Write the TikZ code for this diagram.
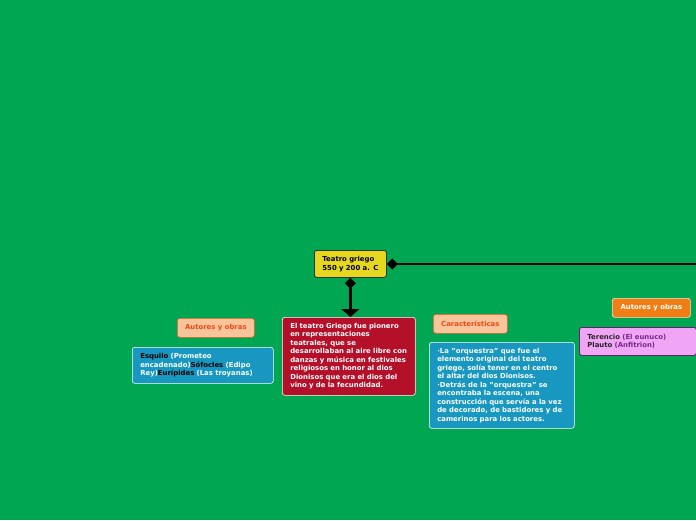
\documentclass[tikz,border=0pt]{standalone}
\usepackage{fontspec}
\setmainfont{DejaVu Sans}
\usetikzlibrary{arrows.meta}
\definecolor{bggreen}{RGB}{0,166,81}
\definecolor{ygold}{RGB}{230,216,30}
\definecolor{tred}{RGB}{181,16,42}
\definecolor{lorange}{RGB}{248,196,154}
\definecolor{lorangeborder}{RGB}{226,92,32}
\definecolor{lorangetext}{RGB}{240,72,22}
\definecolor{tblue}{RGB}{24,152,192}
\definecolor{dorange}{RGB}{240,126,20}
\definecolor{tpink}{RGB}{240,166,245}
\definecolor{pinkborder}{RGB}{90,40,100}
\definecolor{pinktext}{RGB}{120,40,140}
\tikzset{
  x=1pt,y=-1pt,
  box/.style={rounded corners=2.5pt, anchor=north west, align=left, inner xsep=8pt, inner ysep=2pt,
    font=\fontsize{6.9}{8.5}\selectfont\bfseries},
  labelbox/.style={rounded corners=2.5pt, anchor=north west, align=center, inner sep=0pt,
    font=\fontsize{6.9}{8.5}\selectfont\bfseries},
  conn/.style={line width=2.6pt, black},
}
\begin{document}
\begin{tikzpicture}
\fill[bggreen] (0,0) rectangle (696,520);
\useasboundingbox (0,0) rectangle (696,520);

\node[box, fill=ygold, draw=black!80, line width=0.8pt, text width=56pt, minimum height=27pt, text=black] (central) at (314,250)
  {Teatro griego\\550 y 200 a. C};

\node[box, fill=tred, draw=white, line width=0.6pt, text width=117pt, minimum height=78pt, text=white] (red) at (282,317)
  {El teatro Griego fue pionero\\en representaciones\\teatrales, que se\\desarrollaban al aire libre con\\danzas y música en festivales\\religiosos en honor al dios\\Dionisos que era el dios del\\vino y de la fecundidad.};

\node[labelbox, fill=lorange, draw=lorangeborder, line width=0.7pt, minimum width=77pt, minimum height=19pt, text=lorangetext] (aut1) at (177,318)
  {Autores y obras};

\node[box, fill=tblue, draw=white, line width=0.6pt, text width=125pt, minimum height=36pt, text=white] (blue1) at (132,347)
  {\textcolor{black}{Esquilo} (Prometeo\\encadenado)\textcolor{black}{Sófocles} (Edipo\\Rey)\textcolor{black}{Eurípides} (Las troyanas)};

\node[labelbox, fill=lorange, draw=lorangeborder, line width=0.7pt, minimum width=74pt, minimum height=19pt, text=lorangetext] (carac) at (433,314)
  {Características};

\node[box, fill=tblue, draw=white, line width=0.6pt, text width=129pt, minimum height=86pt, text=white] (blue2) at (429,342)
  {·La "orquestra" que fue el\\elemento original del teatro\\griego, solía tener en el centro\\el altar del dios Dionisos.\\·Detrás de la "orquestra" se\\encontraba la escena, una\\construcción que servía a la vez\\de decorado, de bastidores y de\\camerinos para los actores.};

\node[labelbox, fill=dorange, draw=white!80!dorange, line width=0.7pt, minimum width=78pt, minimum height=19pt, text=white] (aut2) at (612,298)
  {Autores y obras};

\node[box, fill=tpink, draw=pinkborder, line width=0.8pt, text width=101pt, minimum height=28pt, text=pinktext] (pink) at (579,327)
  {\textcolor{black!85}{Terencio} (El eunuco)\\\textcolor{black!85}{Plauto} (Anfitrion)};

\coordinate (rightend) at (700,264);
\draw[conn, {Diamond[width=11pt,length=11pt]}-] (central.east |- 0,264) -- (rightend);
\draw[conn, {Diamond[width=11pt,length=11pt]}-{Triangle[width=18pt,length=8pt]}] (central.south) -- (red.north -| central.south);
\end{tikzpicture}
\end{document}
